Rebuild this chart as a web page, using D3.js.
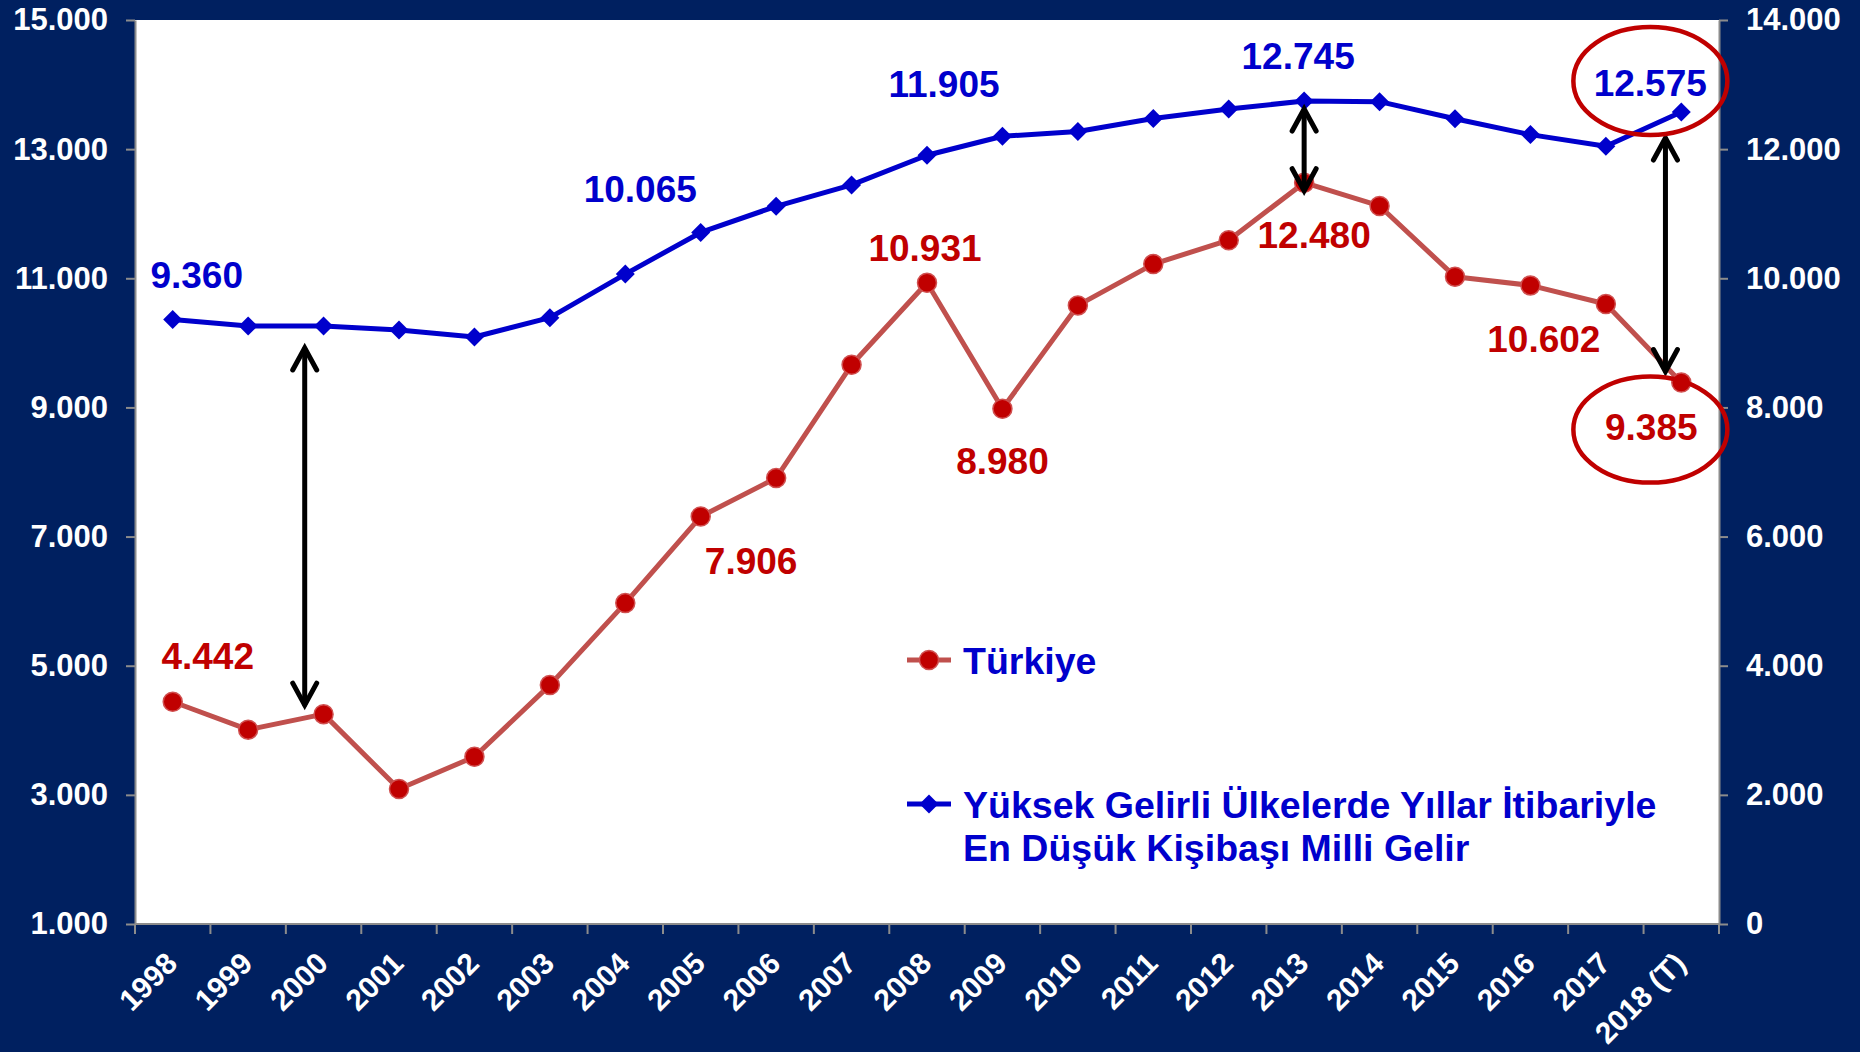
<!DOCTYPE html>
<html><head><meta charset="utf-8">
<script src="https://cdn.jsdelivr.net/npm/d3@7"></script>
<style>
html,body{margin:0;padding:0;background:#002060;}
svg{display:block;font-family:"Liberation Sans",Arial,sans-serif;font-weight:bold;}
</style></head>
<body>
<svg id="chart" width="1860" height="1052"></svg>
<script>
const years = ["1998","1999","2000","2001","2002","2003","2004","2005","2006","2007","2008","2009","2010","2011","2012","2013","2014","2015","2016","2017","2018 (T)"];
const turkiye = [4442,4010,4250,3090,3590,4700,5970,7310,7906,9660,10931,8980,10580,11220,11590,12480,12120,11025,10890,10602,9385];
const yuksekGelir = [9360,9261,9261,9199,9091,9390,10065,10710,11115,11446,11905,12200,12273,12475,12622,12745,12735,12470,12225,12045,12575];
const leftTicks = [1000,3000,5000,7000,9000,11000,13000,15000];
const rightTicks = [0,2000,4000,6000,8000,10000,12000,14000];
const seriesNames = ["Türkiye","Yüksek Gelirli Ülkelerde Yıllar İtibariyle","En Düşük Kişibaşı Milli Gelir"];

const W=1860,H=1052;
const M={left:135,right:1719,top:20,bottom:924};
const svg=d3.select("#chart");
const loc=d3.formatLocale({decimal:",",thousands:".",grouping:[3],currency:["",""]});
const fmt=loc.format(",d");

const x=d3.scaleBand().domain(years).range([M.left,M.right]).padding(0);
const cx=d=>x(d)+x.bandwidth()/2;
const yL=d3.scaleLinear().domain([1000,15000]).range([M.bottom,M.top]);
const yR=d3.scaleLinear().domain([0,14000]).range([M.bottom,M.top]);

// plot area
svg.append("rect").attr("x",M.left).attr("y",M.top).attr("width",M.right-M.left).attr("height",M.bottom-M.top).attr("fill","#fff");

const axisColor="#8c8c8c";
const gL=svg.append("g").attr("transform",`translate(${M.left},0)`)
  .call(d3.axisLeft(yL).tickValues(leftTicks).tickFormat(fmt).tickSize(9).tickSizeOuter(0).tickPadding(18));
const gR=svg.append("g").attr("transform",`translate(${M.right},0)`)
  .call(d3.axisRight(yR).tickValues(rightTicks).tickFormat(fmt).tickSize(9).tickSizeOuter(0).tickPadding(18));
[gL,gR].forEach(g=>{
  g.select(".domain").attr("stroke",axisColor).attr("stroke-width",2);
  g.selectAll(".tick line").attr("stroke",axisColor).attr("stroke-width",2);
  g.selectAll(".tick text").attr("fill","#fff").attr("font-size",31).attr("font-weight","bold").attr("font-family","Liberation Sans, Arial, sans-serif");
});

// bottom axis
const gB=svg.append("g");
gB.append("line").attr("x1",M.left).attr("x2",M.right).attr("y1",M.bottom).attr("y2",M.bottom).attr("stroke",axisColor).attr("stroke-width",2);
const bounds=years.map(d=>x(d)).concat([M.right]);
gB.selectAll("line.tk").data(bounds).join("line").attr("class","tk")
  .attr("x1",d=>d).attr("x2",d=>d).attr("y1",M.bottom).attr("y2",M.bottom+10).attr("stroke",axisColor).attr("stroke-width",2);
gB.selectAll("text").data(years).join("text")
  .attr("transform",d=>`translate(${cx(d)-9},${M.bottom+26}) rotate(-45)`)
  .attr("text-anchor","end").attr("dy","0.72em")
  .attr("fill","#fff").attr("font-size",30).text(d=>d);

// lines
const blue="#0000CC", redLine="#C0504D", redMark="#C00000";
const lineR=d3.line().x((d,i)=>cx(years[i])).y(d=>yR(d));
const lineL=d3.line().x((d,i)=>cx(years[i])).y(d=>yL(d));
svg.append("path").datum(turkiye).attr("d",lineL).attr("fill","none").attr("stroke",redLine).attr("stroke-width",5).attr("stroke-linejoin","round");
svg.append("path").datum(yuksekGelir).attr("d",lineR).attr("fill","none").attr("stroke",blue).attr("stroke-width",5).attr("stroke-linejoin","round");

const diamond=d3.symbol().type(d3.symbolDiamond2).size(230);
svg.selectAll("circle.tr").data(turkiye).join("circle").attr("class","tr")
  .attr("cx",(d,i)=>cx(years[i])).attr("cy",d=>yL(d)).attr("r",9.5)
  .attr("fill",redMark).attr("stroke","#D05050").attr("stroke-width",1.5);
svg.selectAll("path.yk").data(yuksekGelir).join("path").attr("class","yk")
  .attr("transform",(d,i)=>`translate(${cx(years[i])},${yR(d)})`).attr("d",diamond).attr("fill",blue);

// data labels (layout offsets only)
const labelsBlue=[{i:0,dx:24,dy:-45},{i:6,dx:15,dy:-85},{i:10,dx:17,dy:-72},{i:15,dx:-6,dy:-45},{i:20,dx:-31,dy:-29}];
const labelsRed=[{i:0,dx:35,dy:-46},{i:8,dx:-25,dy:83},{i:10,dx:-2,dy:-35},{i:11,dx:0,dy:52},{i:15,dx:10,dy:52},{i:19,dx:-62,dy:35},{i:20,dx:-30,dy:44}];
svg.selectAll("text.lb").data(labelsBlue).join("text").attr("class","lb")
  .attr("x",d=>cx(years[d.i])+d.dx).attr("y",d=>yR(yuksekGelir[d.i])+d.dy).attr("dy","0.36em")
  .attr("text-anchor","middle").attr("fill",blue).attr("font-size",37).text(d=>fmt(yuksekGelir[d.i]));
svg.selectAll("text.lr").data(labelsRed).join("text").attr("class","lr")
  .attr("x",d=>cx(years[d.i])+d.dx).attr("y",d=>yL(turkiye[d.i])+d.dy).attr("dy","0.36em")
  .attr("text-anchor","middle").attr("fill",redMark).attr("font-size",37).text(d=>fmt(turkiye[d.i]));

// arrows
function arrow(xp,y1,y2){
  const g=svg.append("g").attr("fill","none").attr("stroke","#000").attr("stroke-width",5).attr("stroke-linecap","round").attr("stroke-linejoin","miter");
  g.append("line").attr("x1",xp).attr("x2",xp).attr("y1",y1+2).attr("y2",y2-2);
  g.append("path").attr("d",`M${xp-12},${y1+23}L${xp},${y1+1}L${xp+12},${y1+23}`);
  g.append("path").attr("d",`M${xp-12},${y2-23}L${xp},${y2-1}L${xp+12},${y2-23}`);
}
const bw=x.bandwidth();
arrow(cx("2000")-bw*0.25, yR(yuksekGelir[2])+21, yL(turkiye[2])-8);
arrow(cx("2013"), yR(yuksekGelir[15])+7, yL(turkiye[15])+9);
arrow(cx("2018 (T)")-bw*0.21, yR(yuksekGelir[20])+25, yL(turkiye[20])-10);

// ellipses
svg.append("ellipse").attr("cx",cx("2018 (T)")-bw*0.41).attr("cy",yR(yuksekGelir[20])-31).attr("rx",77).attr("ry",54)
  .attr("fill","none").attr("stroke",redMark).attr("stroke-width",4.5);
svg.append("ellipse").attr("cx",cx("2018 (T)")-bw*0.41).attr("cy",yL(turkiye[20])+47).attr("rx",77).attr("ry",53)
  .attr("fill","none").attr("stroke",redMark).attr("stroke-width",4.5);

// legend
const lg=svg.append("g");
lg.append("line").attr("x1",907).attr("x2",951).attr("y1",660).attr("y2",660).attr("stroke",redLine).attr("stroke-width",5);
lg.append("circle").attr("cx",929).attr("cy",660).attr("r",9.5).attr("fill",redMark).attr("stroke","#D05050").attr("stroke-width",1.5);
lg.append("text").attr("x",963).attr("y",660).attr("dy","0.36em").attr("fill",blue).attr("font-size",37.5).text(seriesNames[0]);
lg.append("line").attr("x1",907).attr("x2",951).attr("y1",804).attr("y2",804).attr("stroke",blue).attr("stroke-width",5);
lg.append("path").attr("transform","translate(929,804)").attr("d",diamond).attr("fill",blue);
lg.append("text").attr("x",963).attr("y",804).attr("dy","0.36em").attr("fill",blue).attr("font-size",37.5).text(seriesNames[1]);
lg.append("text").attr("x",963).attr("y",847).attr("dy","0.36em").attr("fill",blue).attr("font-size",37.5).text(seriesNames[2]);
</script>
</body></html>
